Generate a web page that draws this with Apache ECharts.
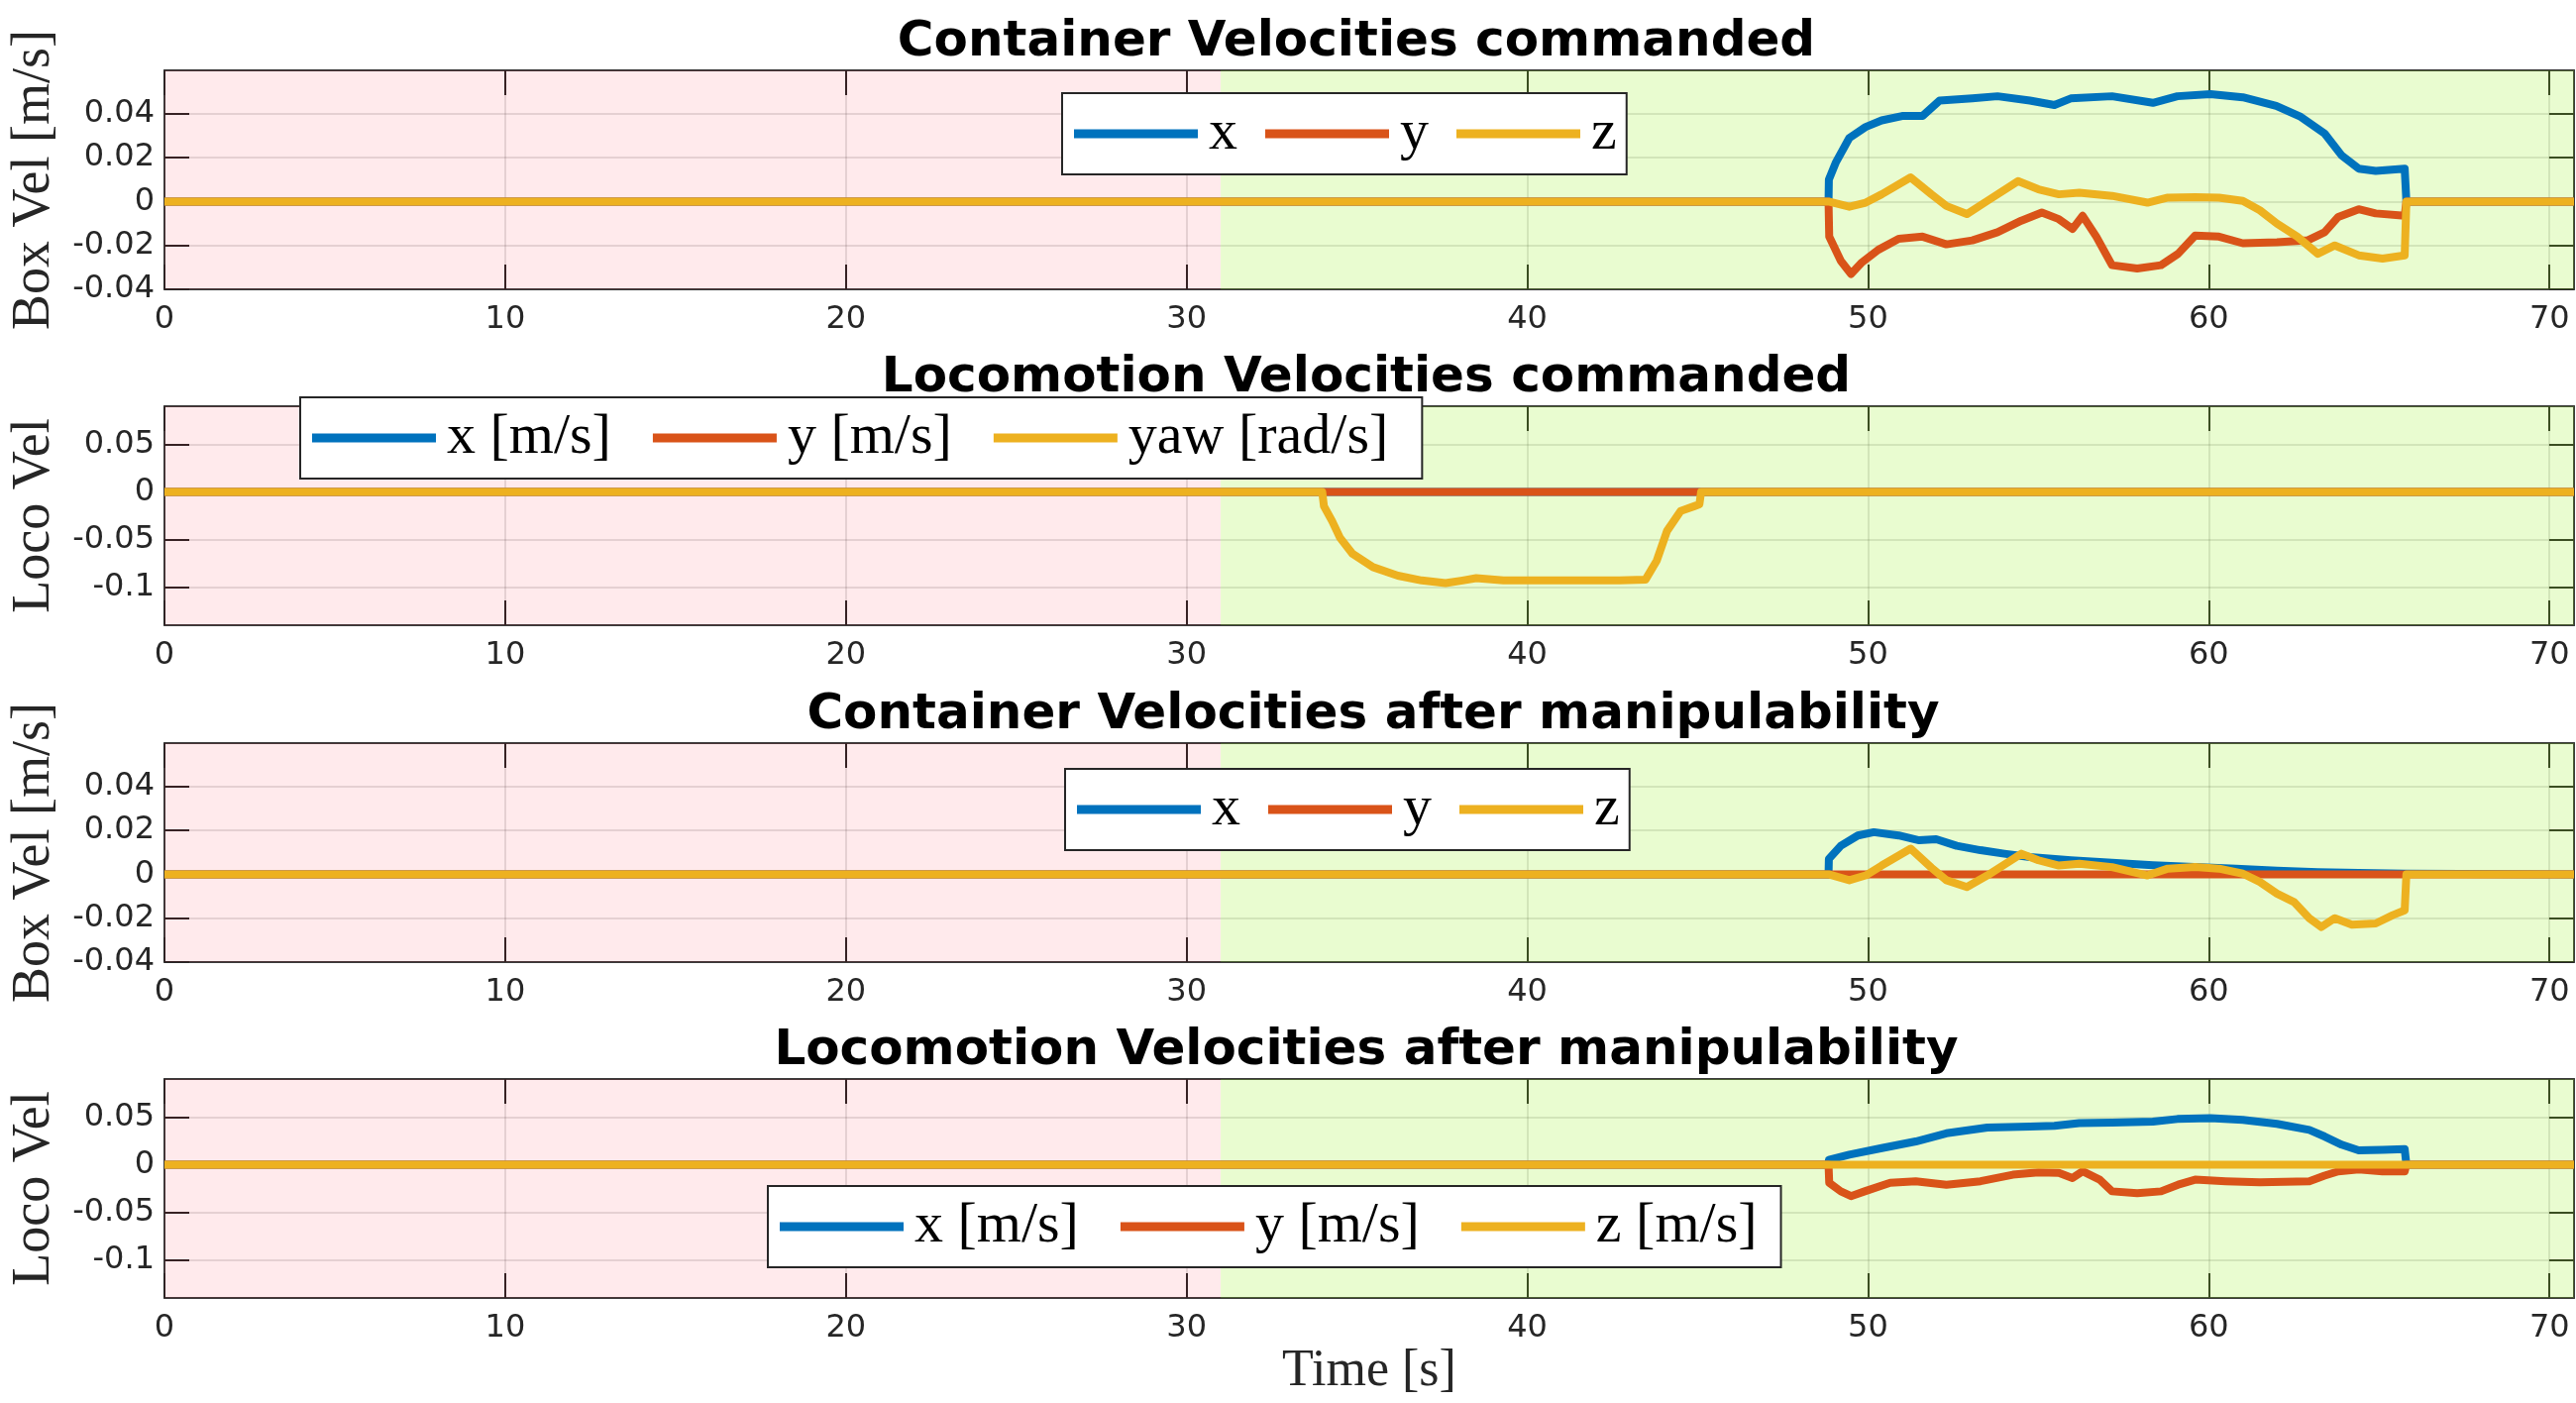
<!DOCTYPE html>
<html><head><meta charset="utf-8">
<script src="https://cdn.jsdelivr.net/npm/echarts@6/dist/echarts.min.js"></script>
<style>html,body{margin:0;padding:0;background:#fff}#c{width:2600px;height:1416px}</style>
</head><body><div id="c"></div><script>
// ---------- data ----------
const titles = ['Container Velocities commanded', 'Locomotion Velocities commanded',
  'Container Velocities after manipulability', 'Locomotion Velocities after manipulability'];
const yNames = ['Box Vel [m/s]', 'Loco Vel', 'Box Vel [m/s]', 'Loco Vel'];
const legendNames1 = ['x', 'y', 'z'];
const legendNames2 = ['x [m/s]', 'y [m/s]', 'yaw [rad/s]'];
const legendNames3 = ['x', 'y', 'z'];
const legendNames4 = ['x [m/s]', 'y [m/s]', 'z [m/s]'];
const xTicks = [0, 10, 20, 30, 40, 50, 60, 70];
const xRange = [0, 70.72];
const boxTicks = [-0.04, -0.02, 0, 0.02, 0.04];
const boxRange = [-0.04, 0.0598];
const locoTicks = [-0.1, -0.05, 0, 0.05];
const locoRange = [-0.14, 0.09];
const phaseBounds = [0, 31, 70.72];   // red phase, green phase

// panel 1: container commanded
const t1x = [0, 48.84, 48.85, 49.06, 49.45, 49.93, 50.4, 51.0, 51.6, 52.1, 53.06, 53.8, 54.75, 55.47, 55.95, 57.16, 58.36, 59.08, 60.05, 61.0, 61.98, 62.7, 63.4, 63.9, 64.4, 64.9, 65.75, 65.8, 70.72];
const v1x = [0, 0, 0.010, 0.018, 0.029, 0.034, 0.037, 0.039, 0.039, 0.046, 0.047, 0.048, 0.046, 0.044, 0.047, 0.048, 0.045, 0.048, 0.049, 0.0475, 0.0436, 0.0386, 0.031, 0.021, 0.015, 0.014, 0.015, 0, 0];
const t1y = [0, 48.84, 48.86, 49.2, 49.5, 49.8, 50.3, 50.9, 51.6, 52.3, 53.06, 53.8, 54.5, 55.1, 55.6, 56.0, 56.3, 56.7, 57.16, 57.9, 58.6, 59.1, 59.6, 60.3, 61.0, 62.0, 62.9, 63.4, 63.8, 64.4, 64.9, 65.75, 65.8, 70.72];
const v1y = [0, 0, -0.016, -0.027, -0.033, -0.028, -0.022, -0.017, -0.016, -0.0195, -0.0177, -0.014, -0.0087, -0.005, -0.008, -0.0125, -0.0065, -0.016, -0.029, -0.0305, -0.029, -0.0238, -0.0155, -0.016, -0.019, -0.0185, -0.0177, -0.014, -0.007, -0.0035, -0.0054, -0.0065, 0, 0];
const t1z = [0, 48.84, 49.45, 49.93, 50.4, 51.25, 51.86, 52.3, 52.9, 53.5, 54.4, 55.0, 55.6, 56.2, 57.16, 58.2, 58.8, 59.6, 60.3, 61.0, 61.5, 62.0, 62.6, 63.2, 63.7, 64.4, 65.1, 65.75, 65.8, 70.72];
const v1z = [0, 0, -0.0024, -0.0005, 0.0033, 0.011, 0.0033, -0.002, -0.0057, 0.0003, 0.0093, 0.0056, 0.0033, 0.004, 0.0026, -0.0005, 0.0018, 0.002, 0.0018, 0.0003, -0.004, -0.010, -0.016, -0.0238, -0.020, -0.0245, -0.026, -0.0245, 0, 0];

// panel 2: locomotion commanded
const t2x = [0, 70.72];
const v2x = [0, 0];
const t2y = [0, 70.72];
const v2y = [0, 0];
const t2yaw = [0, 33.98, 34.03, 34.27, 34.5, 34.87, 35.47, 36.2, 36.9, 37.6, 38.1, 38.5, 39.3, 41.0, 42.7, 43.47, 43.8, 44.1, 44.5, 44.9, 45.05, 45.1, 70.72];
const v2yaw = [0, 0, -0.015, -0.0306, -0.048, -0.065, -0.079, -0.088, -0.093, -0.0958, -0.093, -0.0906, -0.093, -0.093, -0.093, -0.092, -0.072, -0.041, -0.020, -0.015, -0.013, 0, 0];

// panel 3: container after manipulability
const t3x = [0, 48.84, 48.85, 49.2, 49.7, 50.17, 50.9, 51.5, 52.0, 52.6, 53.3, 54.0, 54.75, 55.95, 57.16, 58.36, 59.57, 60.8, 62.0, 63.2, 64.4, 65.75, 65.8, 70.72];
const v3x = [0, 0, 0.007, 0.013, 0.0177, 0.0192, 0.0177, 0.0155, 0.016, 0.013, 0.011, 0.0094, 0.0079, 0.0064, 0.0053, 0.0041, 0.0033, 0.0026, 0.0017, 0.001, 0.0006, 0.0003, 0, 0];
const t3y = [0, 70.72];
const v3y = [0, 0];
const t3z = [0, 48.84, 49.45, 49.93, 50.4, 51.25, 51.86, 52.3, 52.9, 53.5, 54.5, 55.0, 55.6, 56.2, 57.16, 58.2, 58.8, 59.6, 60.3, 61.0, 61.5, 62.0, 62.5, 62.95, 63.3, 63.7, 64.2, 64.9, 65.4, 65.75, 65.8, 70.72];
const v3z = [0, 0, -0.0027, -0.0005, 0.004, 0.0117, 0.003, -0.0027, -0.0058, -0.0005, 0.0094, 0.0064, 0.004, 0.0048, 0.0033, -0.0005, 0.0026, 0.0033, 0.0026, 0.0003, -0.0035, -0.0088, -0.0126, -0.020, -0.024, -0.020, -0.023, -0.0224, -0.0186, -0.0164, 0, 0];

// panel 4: locomotion after manipulability
const t4x = [0, 48.84, 48.85, 49.45, 50.4, 51.4, 52.3, 53.5, 54.75, 55.47, 56.2, 57.16, 58.36, 59.08, 60.05, 61.0, 62.0, 62.95, 63.4, 63.9, 64.4, 65.1, 65.75, 65.8, 70.72];
const v4x = [0, 0, 0.005, 0.0105, 0.0174, 0.0244, 0.033, 0.039, 0.040, 0.0408, 0.0436, 0.0443, 0.0453, 0.048, 0.0488, 0.047, 0.0429, 0.0366, 0.0296, 0.021, 0.015, 0.0157, 0.0164, 0, 0];
const t4y = [0, 48.84, 48.86, 49.2, 49.5, 49.9, 50.65, 51.4, 52.3, 53.3, 54.25, 55.0, 55.6, 56.0, 56.3, 56.8, 57.16, 57.9, 58.6, 59.1, 59.6, 60.5, 61.5, 62.95, 63.4, 63.8, 64.4, 65.1, 65.75, 65.8, 70.72];
const v4y = [0, 0, -0.019, -0.028, -0.033, -0.028, -0.019, -0.0174, -0.021, -0.0174, -0.0105, -0.008, -0.0087, -0.014, -0.007, -0.0157, -0.028, -0.030, -0.028, -0.021, -0.0157, -0.0174, -0.0185, -0.0174, -0.0115, -0.007, -0.005, -0.007, -0.007, 0, 0];
const t4z = [0, 70.72];
const v4z = [0, 0];

// ---------- styling / build ----------
const COLORS = ['#0072BD', '#D95319', '#EDB120'];
const AX = '#262626';
const gridTops = [71, 410, 750, 1089];
const gridH = 221;
const titleCenters = [1364, 1374, 1381, 1374];
const zip = (t, v) => t.map((x, i) => [x, v[i]]);

const panels = [
  { names: legendNames1, data: [zip(t1x, v1x), zip(t1y, v1y), zip(t1z, v1z)], ticks: boxTicks, range: boxRange,
    legend: { left: 1072, top: 94, gap: 28, padR: 10 } },
  { names: legendNames2, data: [zip(t2x, v2x), zip(t2y, v2y), zip(t2yaw, v2yaw)], ticks: locoTicks, range: locoRange,
    legend: { left: 303, top: 401, gap: 42, padR: 34 } },
  { names: legendNames3, data: [zip(t3x, v3x), zip(t3y, v3y), zip(t3z, v3z)], ticks: boxTicks, range: boxRange,
    legend: { left: 1075, top: 776, gap: 28, padR: 10 } },
  { names: legendNames4, data: [zip(t4x, v4x), zip(t4y, v4y), zip(t4z, v4z)], ticks: locoTicks, range: locoRange,
    legend: { left: 775, top: 1197, gap: 42, padR: 24 } }
];

const option = { animation: false, backgroundColor: '#fff', title: [], grid: [], xAxis: [], yAxis: [], legend: [], series: [] };

const tickLine = { show: true, inside: true, length: 25, lineStyle: { color: AX, width: 2 } };
const axLine = { show: true, onZero: false, lineStyle: { color: '#3a3a3a', width: 2 } };
const splitL = { show: true, lineStyle: { color: 'rgba(38,38,38,0.13)', width: 2 } };
const lblStyle = { color: AX, fontFamily: 'DejaVu Sans', fontSize: 32 };

panels.forEach((p, i) => {
  option.title.push({ text: titles[i], left: titleCenters[i], top: gridTops[i] - 62, textAlign: 'center',
    textStyle: { fontFamily: 'DejaVu Sans', fontWeight: 'bold', fontSize: 50, color: '#000', lineHeight: 58 } });
  option.grid.push({ left: 158, right: 2, top: gridTops[i], height: gridH });
  const isLast = i === 3;
  option.xAxis.push({ type: 'value', gridIndex: i, min: xRange[0], max: xRange[1], position: 'bottom',
    axisLine: axLine, axisTick: Object.assign({ customValues: xTicks }, tickLine),
    axisLabel: Object.assign({ customValues: xTicks, margin: 15 }, lblStyle),
    splitLine: splitL,
    name: isLast ? 'Time [s]' : '', nameLocation: 'middle', nameGap: 48,
    nameTextStyle: { fontFamily: 'Liberation Serif', fontSize: 52, color: AX } });
  option.xAxis.push({ type: 'value', gridIndex: i, min: xRange[0], max: xRange[1], position: 'top',
    axisLine: axLine, axisTick: Object.assign({ customValues: xTicks }, tickLine),
    axisLabel: { show: false }, splitLine: { show: false } });
  option.yAxis.push({ type: 'value', gridIndex: i, min: p.range[0], max: p.range[1], position: 'left',
    axisLine: axLine, axisTick: Object.assign({ customValues: p.ticks }, tickLine),
    axisLabel: Object.assign({ customValues: p.ticks, margin: 10 }, lblStyle),
    splitLine: splitL,
    name: yNames[i], nameLocation: 'middle', nameGap: 104, nameRotate: 90,
    nameTextStyle: { fontFamily: 'Liberation Serif', fontSize: 54, color: AX } });
  option.yAxis.push({ type: 'value', gridIndex: i, min: p.range[0], max: p.range[1], position: 'right',
    axisLine: axLine, axisTick: Object.assign({ customValues: p.ticks }, tickLine),
    axisLabel: { show: false }, splitLine: { show: false } });

  // phase background
  option.series.push({ type: 'line', name: 'bg' + i, xAxisIndex: 2 * i, yAxisIndex: 2 * i, z: 1,
    data: [[phaseBounds[0], 0]], symbol: 'none', lineStyle: { opacity: 0 }, silent: true,
    markArea: { silent: true, data: [
      [{ xAxis: phaseBounds[0], itemStyle: { color: 'rgba(255,0,24,0.082)' } }, { xAxis: phaseBounds[1] }],
      [{ xAxis: phaseBounds[1], itemStyle: { color: 'rgba(145,240,20,0.2)' } }, { xAxis: phaseBounds[2] }]
    ] } });

  p.names.forEach((n, k) => {
    option.series.push({ type: 'line', name: n, xAxisIndex: 2 * i, yAxisIndex: 2 * i, z: 3,
      data: p.data[k], showSymbol: false, symbol: 'none', clip: true,
      lineStyle: { color: COLORS[k], width: 8, join: 'round' }, itemStyle: { color: COLORS[k] } });
  });

  option.legend.push({ data: p.names, left: p.legend.left, top: p.legend.top, orient: 'horizontal',
    icon: 'rect', itemWidth: 125, itemHeight: 9, itemGap: p.legend.gap, padding: [12, p.legend.padR, 12, 12],
    backgroundColor: '#fff', borderColor: AX, borderWidth: 2, selectedMode: false,
    textStyle: { fontFamily: 'Liberation Serif', fontSize: 58, color: '#000', padding: [0, 0, 0, 6] } });
});

const chart = echarts.init(document.getElementById('c'), null, { renderer: 'canvas' });
chart.setOption(option);
</script></body></html>
